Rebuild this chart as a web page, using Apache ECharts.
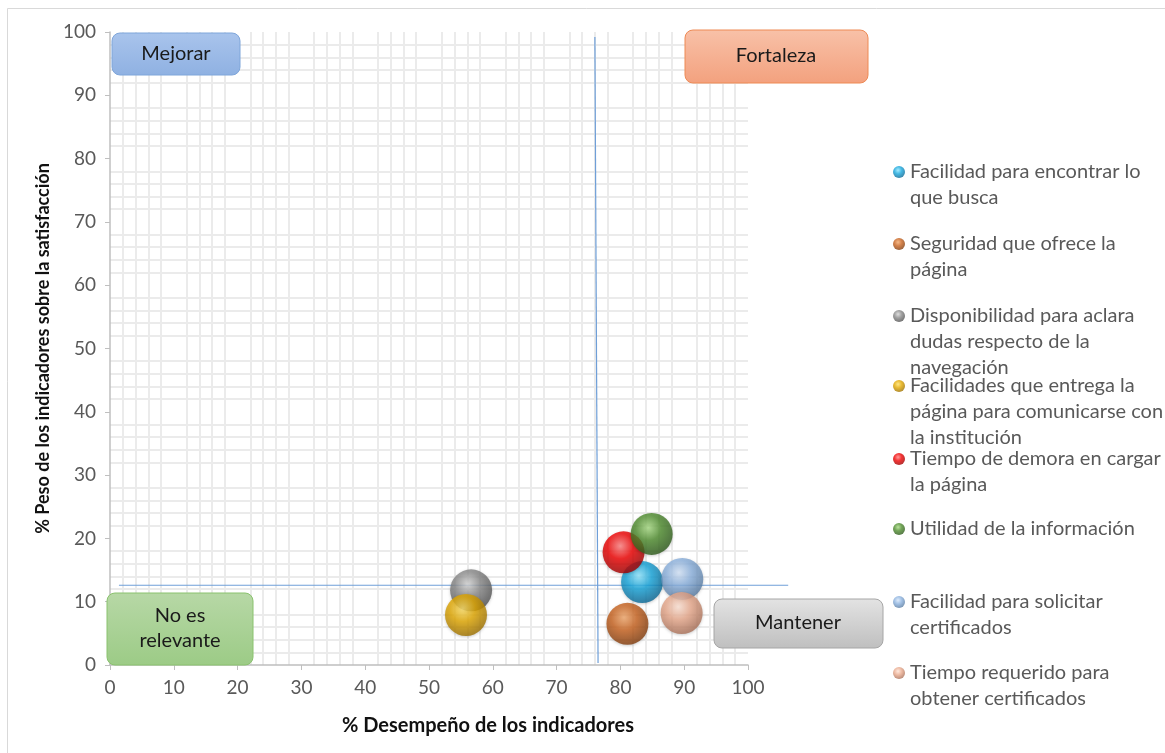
<!DOCTYPE html>
<html>
<head>
<meta charset="utf-8">
<script src="https://cdn.jsdelivr.net/npm/echarts@6/dist/echarts.min.js"></script>
<style>
  html, body { margin: 0; padding: 0; background: #ffffff; }
  #chart { width: 1165px; height: 753px; }
</style>
</head>
<body>
<div id="chart"></div>
<script>
// ---- Data ----
const categories = [
  'Facilidad para encontrar lo que busca',
  'Seguridad que ofrece la página',
  'Disponibilidad para aclara dudas respecto de la navegación',
  'Facilidades que entrega la página para comunicarse con la institución',
  'Tiempo de demora en cargar la página',
  'Utilidad de la información',
  'Facilidad para solicitar certificados',
  'Tiempo requerido para obtener certificados'
];
const legendLabels = [
  'Facilidad para encontrar lo\nque busca',
  'Seguridad que ofrece la\npágina',
  'Disponibilidad para aclara\ndudas respecto de la\nnavegación',
  'Facilidades que entrega la\npágina para comunicarse con\nla institución',
  'Tiempo de demora en cargar\nla página',
  'Utilidad de la información',
  'Facilidad para solicitar\ncertificados',
  'Tiempo requerido para\nobtener certificados'
];
const desempeno = [83.4, 81.1, 56.6, 55.8, 80.5, 84.9, 89.7, 89.6];
const peso      = [13.1, 6.5, 11.8, 7.9, 17.8, 20.7, 13.6, 8.2];
const xTicks = [0, 10, 20, 30, 40, 50, 60, 70, 80, 90, 100];
const yTicks = [0, 10, 20, 30, 40, 50, 60, 70, 80, 90, 100];
// reference lines (data units)
const hLine = [[1.4, 12.6], [106.3, 12.6]];
const vLine = [[76.0, 99.2], [76.5, 0.3]];
const quadrantLabels = ['Mejorar', 'Fortaleza', 'No es\nrelevante', 'Mantener'];

// ---- Styles ----
const light = ['#8fe6ff', '#f2a86c', '#d6d6d6', '#ffe066', '#ff8080', '#a8dc84', '#d6e6fa', '#ffe4d6'];
const base  = ['#16a6dc', '#c8621e', '#8a8a8a', '#e2a800', '#f00000', '#4f8d2e', '#8cb2df', '#e9a98c'];
const dark  = ['#0a6591', '#7e3a0c', '#4e4e4e', '#9a6e00', '#9a0000', '#2c571a', '#56799f', '#a66d55'];

const FONT = 'Lato';
const LH = 26;
const legendFirstLine = [172, 244, 316, 386, 459, 529, 602, 673];

function sphere(i) {
  return {
    type: 'radial', x: 0.42, y: 0.35, r: 0.68,
    colorStops: [
      { offset: 0, color: light[i] },
      { offset: 0.45, color: base[i] },
      { offset: 1, color: dark[i] }
    ]
  };
}

const series = categories.map((name, i) => ({
  name: name,
  type: 'scatter',
  symbol: 'circle',
  symbolSize: 42,
  z: 5,
  itemStyle: { color: sphere(i), shadowColor: 'rgba(0,0,0,0.25)', shadowBlur: 3, shadowOffsetY: 1 },
  data: [[desempeno[i], peso[i]]]
}));

const legends = categories.map((name, i) => {
  const n = legendLabels[i].split('\n').length;
  const pre = ' \n'.repeat(n - 1);
  return {
    data: [{ name: name, icon: 'circle' }],
    left: 893,
    top: legendFirstLine[i] - (2 * n - 1) * LH / 2,
    padding: 0,
    itemWidth: 12,
    itemHeight: 12,
    itemGap: 0,
    selectedMode: false,
    formatter: () => pre + legendLabels[i],
    textStyle: { fontFamily: FONT, fontSize: 20, color: '#595959', lineHeight: LH }
  };
});

function box(x, y, w, h, c1, c2, stroke, text, tx, ty) {
  return {
    type: 'group',
    children: [
      {
        type: 'rect',
        shape: { x: x, y: y, width: w, height: h, r: 8 },
        style: {
          fill: { type: 'linear', x: 0, y: 0, x2: 0, y2: 1, colorStops: [{ offset: 0, color: c1 }, { offset: 1, color: c2 }] },
          stroke: stroke, lineWidth: 1
        },
        z: 10
      },
      {
        type: 'text',
        style: { text: text, x: tx, y: ty, align: 'center', verticalAlign: 'middle', fill: '#1a1a1a',
                 font: '20px ' + FONT, lineHeight: 25 },
        z: 11
      }
    ]
  };
}

const chart = echarts.init(document.getElementById('chart'), null, { renderer: 'canvas' });
chart.setOption({
  backgroundColor: '#ffffff',
  animation: false,
  grid: { left: 110, right: 417, top: 32, bottom: 88, containLabel: false },
  legend: legends,
  xAxis: {
    type: 'value', min: 0, max: 100, interval: 10,
    name: '% Desempeño de los indicadores',
    nameLocation: 'middle', nameGap: 51,
    nameTextStyle: { fontFamily: FONT, fontSize: 20, fontWeight: 'bold', color: '#111', padding: [0, 0, 0, 118] },
    axisLine: { show: true, lineStyle: { color: '#bfbfbf', width: 1.5 } },
    axisTick: { show: true, length: 5, lineStyle: { color: '#bfbfbf' } },
    axisLabel: { fontFamily: FONT, fontSize: 19, color: '#595959', margin: 13,
                 formatter: v => xTicks.includes(v) ? String(v) : '' },
    splitLine: { show: false },
    minorTick: { show: false, splitNumber: 5 },
    minorSplitLine: { show: true, lineStyle: { color: '#ebebeb', width: 2 } }
  },
  yAxis: {
    type: 'value', min: 0, max: 100, interval: 10,
    name: '% Peso de los indicadores sobre la satisfacción',
    nameLocation: 'middle', nameGap: 54, nameRotate: 90,
    nameTextStyle: { fontFamily: FONT, fontSize: 18, fontWeight: 'bold', color: '#111' },
    axisLine: { show: true, lineStyle: { color: '#bfbfbf', width: 1.5 } },
    axisTick: { show: true, length: 5, lineStyle: { color: '#bfbfbf' } },
    axisLabel: { fontFamily: FONT, fontSize: 19, color: '#595959', margin: 14,
                 formatter: v => yTicks.includes(v) ? String(v) : '' },
    splitLine: { show: false },
    minorTick: { show: false, splitNumber: 5 },
    minorSplitLine: { show: true, lineStyle: { color: '#ebebeb', width: 2 } }
  },
  series: series
});

// reference lines & quadrant labels, positioned through the chart's own scale
const toPx = p => chart.convertToPixel({ gridIndex: 0 }, p);
const refLine = pts => {
  const a = toPx(pts[0]), b = toPx(pts[1]);
  return { type: 'line', shape: { x1: a[0], y1: a[1], x2: b[0], y2: b[1] },
           style: { stroke: '#6f9fd8', lineWidth: 1.2 }, z: 3, silent: true };
};
chart.setOption({
  graphic: [
    { type: 'rect', shape: { x: 7.5, y: 8.5, width: 1300, height: 900 }, style: { fill: 'none', stroke: '#d9d9d9', lineWidth: 1 }, z: 0, silent: true },
    refLine(hLine),
    refLine(vLine),
    box(112, 33, 128, 42, '#a9c4ec', '#8fb1e2', '#7fa6da', quadrantLabels[0], 176, 54),
    box(685, 30, 183, 53, '#f8c1a8', '#f3a17e', '#ee8a55', quadrantLabels[1], 776, 56),
    box(107, 593, 146, 72, '#b7d8a6', '#9ccb86', '#8ac26e', quadrantLabels[2], 180, 628),
    box(714, 599, 169, 49, '#e3e3e3', '#bfbfbf', '#a6a6a6', quadrantLabels[3], 798, 623)
  ]
});
</script>
</body>
</html>
